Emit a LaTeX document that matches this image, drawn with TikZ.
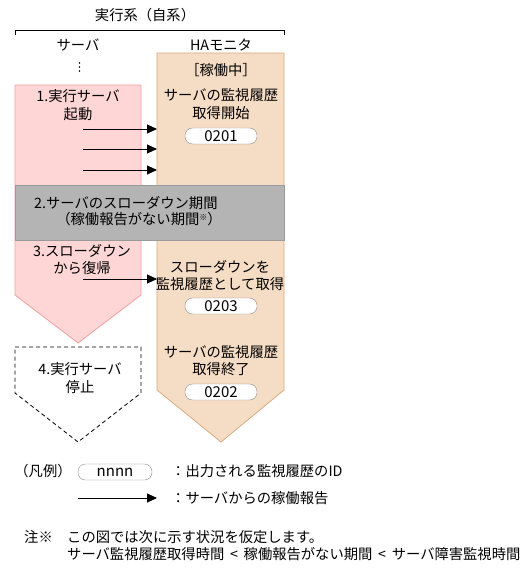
\documentclass[tikz,border=0pt]{standalone}
\usepackage{fontspec}
\setmainfont{Noto Sans CJK JP}
\usetikzlibrary{arrows.meta}
\definecolor{pinkfill}{HTML}{FFD6D6}
\definecolor{pinkline}{HTML}{F2A0A0}
\definecolor{hafill}{HTML}{F5DCC4}
\definecolor{haline}{HTML}{D9AA80}
\definecolor{grayfill}{HTML}{B4B4B4}
\definecolor{grayline}{HTML}{9A9A9A}
\definecolor{idline}{HTML}{8C8C8C}
\tikzset{
  txt/.style={inner sep=0pt, align=center, font=\fontsize{14.3}{17.5}\selectfont},
  ltxt/.style={inner sep=0pt, anchor=west, font=\fontsize{14.3}{17.5}\selectfont},
  idbox/.style={draw=idline, fill=white, rounded corners=7.5pt, minimum width=72pt, minimum height=16pt, inner sep=0pt, font=\fontsize{15}{15}\selectfont},
  report/.style={-{Triangle[length=10pt,width=9pt]}, line width=0.9pt},
}
\begin{document}
\begin{tikzpicture}[x=1pt,y=-1pt]
\useasboundingbox (0,0) rectangle (528,577);
% shapes
\path[fill=pinkfill, draw=pinkline, line width=0.8pt] (15,85) -- (141,85) -- (141,295) -- (78,343) -- (15,295) -- cycle;
\path[fill=hafill, draw=haline, line width=0.8pt] (157,53) -- (284,53) -- (284,390) -- (221,442) -- (157,390) -- cycle;
\path[fill=grayfill, draw=grayline, line width=0.8pt] (15,185) rectangle (284,240);
\draw[dashed, dash pattern=on 4pt off 3pt, line width=0.8pt] (15,347) -- (141,347) -- (141,393) -- (78,442) -- (15,393) -- cycle;
% header
\node[txt] (title) at (145,15) {実行系（自系）};
\draw[line width=0.9pt] (15,35) -- (15,30) -- (284,30) -- (284,35);
\node[txt] (srv) at (78,45) {サーバ};
\node[txt] (ha) at (221,45) {HAモニタ};
\foreach \yy in {63,67,71} \fill (79.5,\yy) circle (0.9pt);
% server texts
\node[txt] (s1) at (78,105) {1.実行サーバ\\起動};
\node[txt] (s3) at (82,259.5) {3.スローダウン\\から復帰};
\node[txt] (s4) at (80,378) {4.実行サーバ\\停止};
% gray band
\node[ltxt] (g1) at (34,203) {2.サーバのスローダウン期間};
\node[txt] (g2) at (139,219) {（稼働報告がない期間\raisebox{0.45ex}{\fontsize{8}{8}\selectfont ※}）};
% HA texts
\node[txt] (h0) at (221,70) {［稼働中］};
\node[txt] (h1) at (221,104) {サーバの監視履歴\\取得開始};
\node[idbox] (id1) at (221,136) {0201};
\node[txt] (h2) at (220,275.5) {スローダウンを\\監視履歴として取得};
\node[idbox] (id2) at (221,306) {0203};
\node[txt] (h3) at (221,360.5) {サーバの監視履歴\\取得終了};
\node[idbox] (id3) at (221,392) {0202};
% reports
\foreach \nm/\yy in {a/129,b/149,c/170,d/279}{
  \coordinate (\nm s) at (83,\yy);
  \coordinate (\nm e) at (157,\yy);
  \draw[report] (\nm s) -- (\nm e);
}
% legend
\node[txt] (leg) at (43,471) {（凡例）};
\node[idbox, minimum width=74pt] (legid) at (115,472) {nnnn};
\node[ltxt] (legidt) at (171,471) {：出力される監視履歴のID};
\coordinate (legas) at (78,498);
\coordinate (legae) at (157,498);
\draw[report] (legas) -- (legae);
\node[ltxt] (legat) at (171,498) {：サーバからの稼働報告};
% note
\node[ltxt] (n0) at (24,537) {注※};
\node[ltxt] (n1) at (67,537) {この図では次に示す状況を仮定します。};
\node[ltxt] (n2) at (67,554) {サーバ監視履歴取得時間\hspace{0.4em}<\hspace{0.4em}稼働報告がない期間\hspace{0.4em}<\hspace{0.4em}サーバ障害監視時間};
\end{tikzpicture}
\end{document}
